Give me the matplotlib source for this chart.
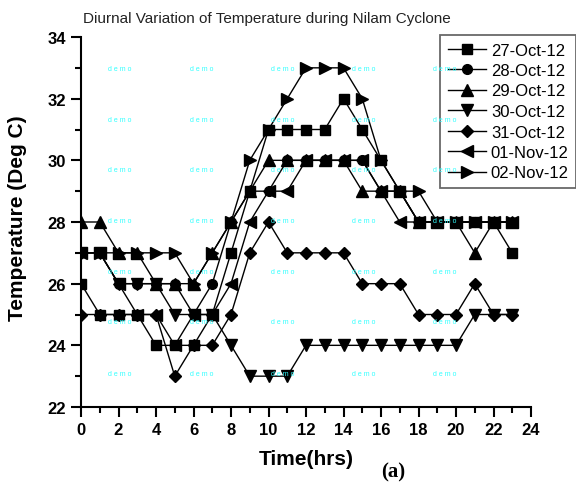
import numpy as np
import matplotlib
matplotlib.use("Agg")
import matplotlib.pyplot as plt
from matplotlib.ticker import MultipleLocator

plt.rcParams['font.family'] = ['Liberation Sans', 'DejaVu Sans']

hours = list(range(24))
oct27 = [26, 25, 25, 25, 24, 24, 24, 25, 27, 29, 31, 31, 31, 31, 32, 31, 30, 29, 28, 28, 28, 28, 28, 27]
oct28 = [27, 27, 26, 26, 26, 26, 25, 26, 28, 29, 29, 30, 30, 30, 30, 30, 29, 29, 28, 28, 28, 28, 28, 28]
oct29 = [28, 28, 27, 27, 26, 26, 26, 27, 28, 29, 30, 30, 30, 30, 30, 29, 29, 29, 28, 28, 28, 27, 28, 28]
oct30 = [27, 27, 26, 26, 26, 25, 25, 25, 24, 23, 23, 23, 24, 24, 24, 24, 24, 24, 24, 24, 24, 25, 25, 25]
oct31 = [25, 25, 25, 25, 25, 23, 24, 24, 25, 27, 28, 27, 27, 27, 27, 26, 26, 26, 25, 25, 25, 26, 25, 25]
nov01 = [27, 27, 26, 25, 25, 24, 25, 25, 26, 28, 29, 29, 30, 30, 30, 30, 29, 28, 28, 28, 28, 28, 28, 28]
nov02 = [27, 27, 27, 27, 27, 27, 26, 27, 28, 30, 31, 32, 33, 33, 33, 32, 30, 29, 29, 28, 28, 28, 28, 28]

labels = ['27-Oct-12', '28-Oct-12', '29-Oct-12', '30-Oct-12', '31-Oct-12', '01-Nov-12', '02-Nov-12']
series = [oct27, oct28, oct29, oct30, oct31, nov01, nov02]
markers = ['s', 'o', '^', 'v', 'D', '<', '>']
sizes = [6.5, 7, 8, 8, 6.5, 8, 8]

fig = plt.figure(figsize=(5.76, 4.85), dpi=100)
ax = fig.add_axes([81/576, 1-408/485, 450/576, 370/485])

for vals, lab, m, s in zip(series, labels, markers, sizes):
    ax.plot(hours, vals, color='black', lw=1.0, marker=m, ms=s,
            markerfacecolor='black', markeredgecolor='black', label=lab)

ax.set_xlim(0, 24)
ax.set_ylim(22, 34)
ax.xaxis.set_major_locator(MultipleLocator(2))
ax.xaxis.set_minor_locator(MultipleLocator(1))
ax.yaxis.set_major_locator(MultipleLocator(2))
ax.yaxis.set_minor_locator(MultipleLocator(1))
ax.tick_params(which='major', direction='out', length=7, width=1.5, labelsize=12, pad=4)
ax.tick_params(which='minor', direction='out', length=4.5, width=1.5)
for lab in ax.get_xticklabels() + ax.get_yticklabels():
    lab.set_fontweight('bold')
ax.spines['top'].set_visible(False)
ax.spines['right'].set_visible(False)
ax.spines['left'].set_linewidth(1.5)
ax.spines['bottom'].set_linewidth(1.5)

# watermark
for wx in [120, 202, 283, 364, 445]:
    for wy in [70, 120, 171, 222, 273, 323, 374]:
        fig.text(wx/576, 1-wy/485, 'd e m o', color='#33ffff', fontsize=5,
                 ha='center', va='center')

fig.text(83/576, 1-19/485, 'Diurnal Variation of Temperature during Nilam Cyclone',
         fontsize=11, ha='left', va='center', color='#222222')
fig.text(18/576, 1-218/485, 'Temperature (Deg C)', fontsize=15, fontweight='bold',
         rotation=90, ha='center', va='center')
fig.text(306/576, 1-460/485, 'Time(hrs)', fontsize=15, fontweight='bold',
         ha='center', va='center')
fig.text(393/576, 1-472/485, '(a)', fontsize=15, fontweight='bold',
         family='Liberation Serif', ha='center', va='center')

leg = ax.legend(loc='upper left', bbox_to_anchor=(440/576, 1-36/485),
                bbox_transform=fig.transFigure, fontsize=12, frameon=True,
                fancybox=False, handlelength=2.3, handletextpad=0.3,
                labelspacing=0.33, borderpad=0.45, borderaxespad=0)
leg.get_frame().set_edgecolor('#444444')
leg.get_frame().set_linewidth(1.3)

fig.savefig('out.png', dpi=100)
